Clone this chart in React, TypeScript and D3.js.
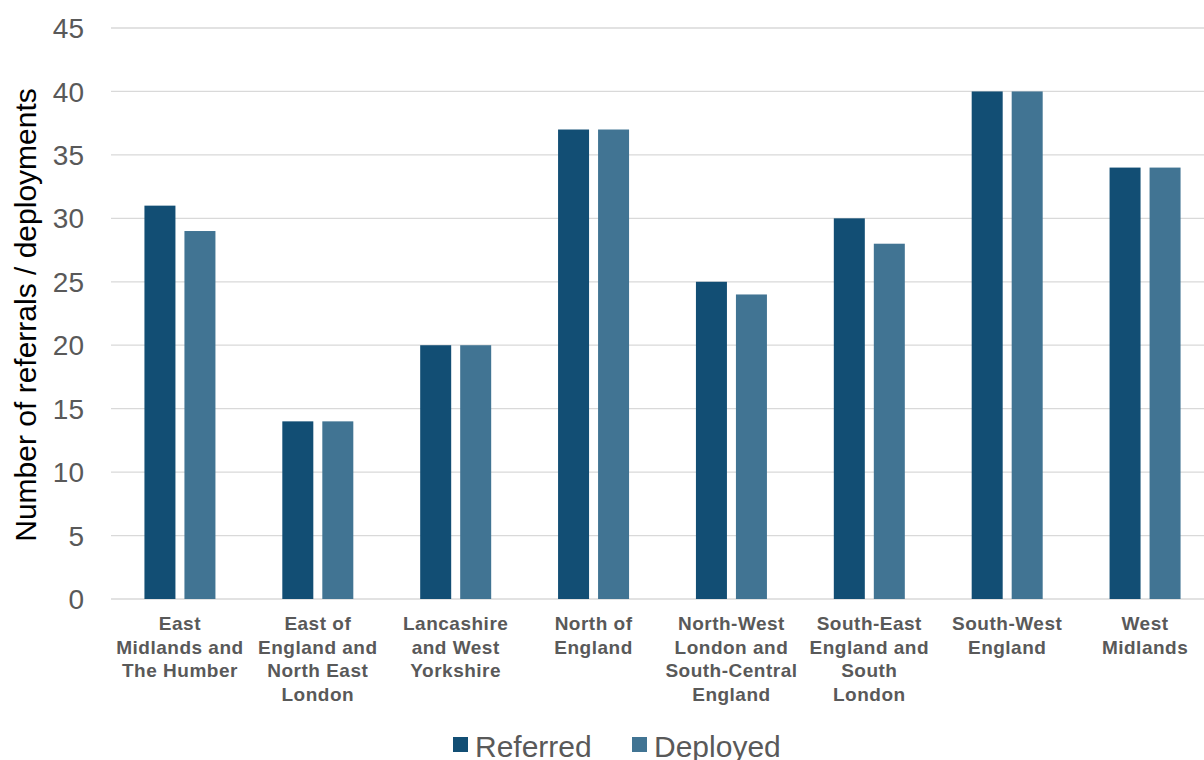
import React from "react";
import * as d3 from "d3";

const categories: string[][] = [
  ["East", "Midlands and", "The Humber"],
  ["East of", "England and", "North East", "London"],
  ["Lancashire", "and West", "Yorkshire"],
  ["North of", "England"],
  ["North-West", "London and", "South-Central", "England"],
  ["South-East", "England and", "South", "London"],
  ["South-West", "England"],
  ["West", "Midlands"],
];
const referred = [31, 14, 20, 37, 25, 30, 40, 34];
const deployed = [29, 14, 20, 37, 24, 28, 40, 34];
const yTicks = [0, 5, 10, 15, 20, 25, 30, 35, 40, 45];
const seriesNames = ["Referred", "Deployed"];
const colors = ["#124e74", "#417493"];

export default function App() {
  const W = 1204, H = 760;
  const x0 = 111, x1 = 1214, yTop = 28, yBot = 599;
  const idx = categories.map((_, i) => String(i));
  const x = d3.scaleBand<string>().domain(idx).range([x0, x1]).paddingInner(0).paddingOuter(0);
  const y = d3.scaleLinear().domain([0, 45]).range([yBot, yTop]);
  const barW = 31, gap = 9;
  const font = "'Liberation Sans', Arial, sans-serif";
  return (
    <svg width={W} height={H} style={{ position: "absolute", left: 0, top: 0, display: "block", background: "#fff" }} fontFamily={font}>
      {yTicks.map((t) => (
        <g key={t}>
          <line x1={x0} x2={W} y1={y(t)} y2={y(t)} stroke="#d9d9d9" strokeWidth={1.3} />
          <text x={84} y={y(t)} dy="0.36em" textAnchor="end" fontSize={28} fill="#595959">{t}</text>
        </g>
      ))}
      {categories.map((_, i) => {
        const c = (x(String(i)) as number) + x.bandwidth() / 2;
        const vals = [referred[i], deployed[i]];
        return (
          <g key={i}>
            {vals.map((v, s) => {
              const bx = s === 0 ? c - gap / 2 - barW : c + gap / 2;
              return <rect key={s} x={bx} y={y(v)} width={barW} height={y(0) - y(v)} fill={colors[s]} />;
            })}
          </g>
        );
      })}
      {categories.map((lines, i) => {
        const c = (x(String(i)) as number) + x.bandwidth() / 2;
        return (
          <text key={i} x={c} textAnchor="middle" fontSize={19} fontWeight="bold" letterSpacing={0.5} fill="#595959">
            {lines.map((l, k) => (
              <tspan key={k} x={c} y={630 + k * 23.5}>{l}</tspan>
            ))}
          </text>
        );
      })}
      <text transform={`translate(36,315) rotate(-90)`} textAnchor="middle" fontSize={30} fill="#000">
        Number of referrals / deployments
      </text>
      <g>
        {seriesNames.map((n, s) => {
          const lx = s === 0 ? 453 : 632;
          return (
            <g key={n}>
              <rect x={lx} y={737} width={15} height={15} fill={colors[s]} />
              <text x={lx + 22} y={757} fontSize={30} fill="#595959">{n}</text>
            </g>
          );
        })}
      </g>
    </svg>
  );
}
